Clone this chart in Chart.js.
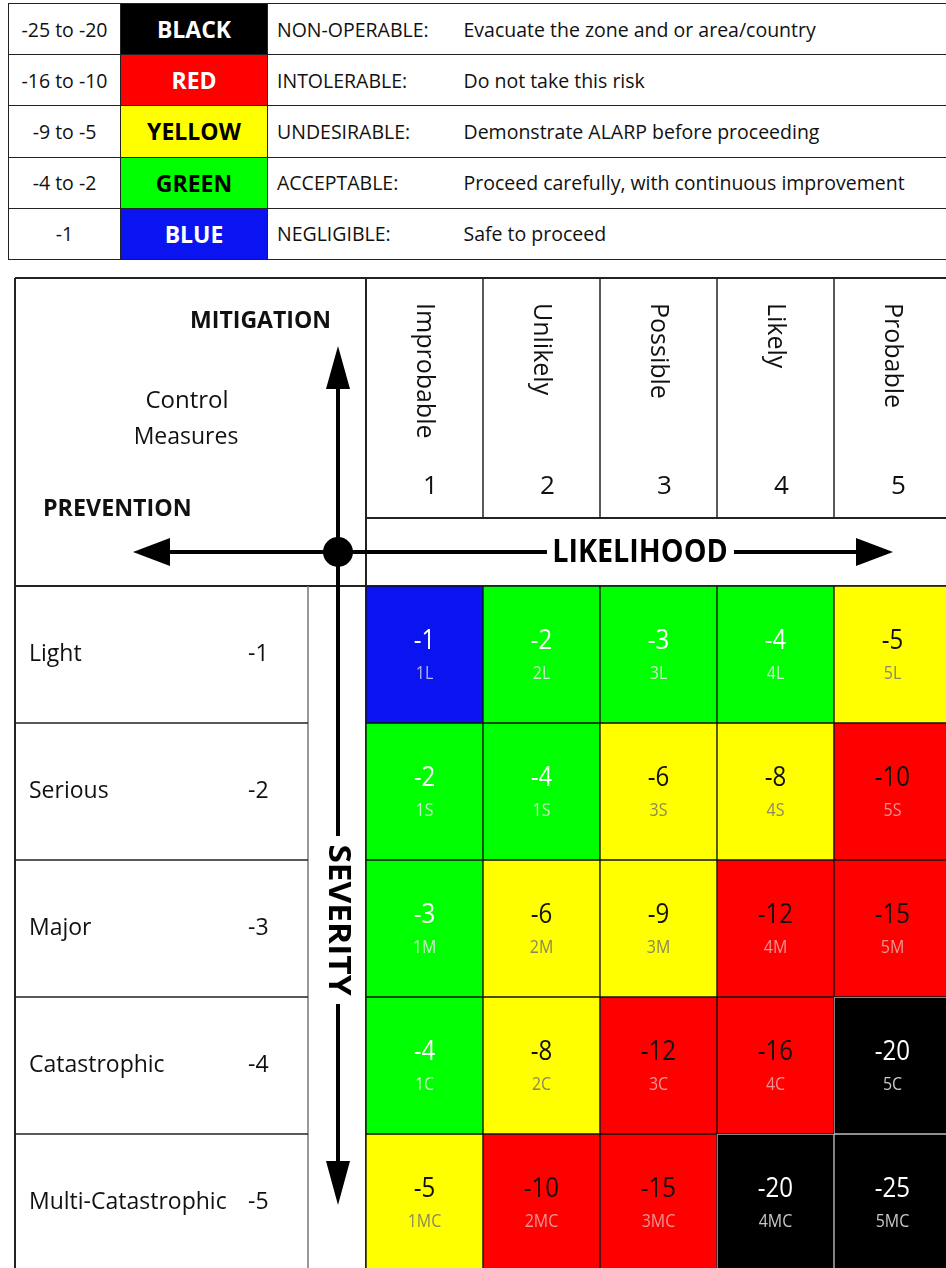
<!DOCTYPE html>
<html>
<head>
<meta charset="utf-8">
<script src="https://cdn.jsdelivr.net/npm/chart.js@4.4.1/dist/chart.umd.min.js"></script>
<style>
  html, body { margin: 0; padding: 0; background: #fff; overflow: hidden; width: 946px; height: 1268px; }
  #matrix { position: absolute; left: 0; top: 0; }
  #legend { position: absolute; left: 8px; top: 3px; width: 980px; border-collapse: collapse; table-layout: fixed; z-index: 2; background: #fff;
    font-family: "Open Sans", sans-serif; font-size: 19.5px; color: #111; }
  #legend td { border: 1.5px solid #222; height: 50.2px; padding: 0; white-space: nowrap; }
  #legend td.range { text-align: center; }
  #legend td.name { text-align: center; font-weight: bold; font-size: 23px; }
  #legend td.level { border-right: none; padding-left: 9px; }
  #legend td.action { border-left: none; padding-left: 10px; }
</style>
</head>
<body>
<table id="legend">
  <colgroup><col style="width:112px"><col style="width:147px"><col style="width:186px"><col></colgroup>
  <tbody></tbody>
</table>
<canvas id="matrix" width="952" height="1272"></canvas>
<script>
// colour bands (legend)
const bandRanges = ["-25 to -20", "-16 to -10", "-9 to -5", "-4 to -2", "-1"];
const bandNames = ["BLACK", "RED", "YELLOW", "GREEN", "BLUE"];
const bandLevels = ["NON-OPERABLE:", "INTOLERABLE:", "UNDESIRABLE:", "ACCEPTABLE:", "NEGLIGIBLE:"];
const bandActions = [
  "Evacuate the zone and or area/country",
  "Do not take this risk",
  "Demonstrate ALARP before proceeding",
  "Proceed carefully, with continuous improvement",
  "Safe to proceed",
];
const bandFloors = [-25, -16, -9, -4, -1];

// axes
const likelihoodLabels = ["Improbable", "Unlikely", "Possible", "Likely", "Probable"];
const likelihoodRatings = ["1", "2", "3", "4", "5"];
const severityLabels = ["Light", "Serious", "Major", "Catastrophic", "Multi-Catastrophic"];
const severityRatings = ["-1", "-2", "-3", "-4", "-5"];

// risk scores per severity row
const lightScores = [-1, -2, -3, -4, -5];
const seriousScores = [-2, -4, -6, -8, -10];
const majorScores = [-3, -6, -9, -12, -15];
const catastrophicScores = [-4, -8, -12, -16, -20];
const multiCatScores = [-5, -10, -15, -20, -25];

// cell codes per severity row
const lightCodes = ["1L", "2L", "3L", "4L", "5L"];
const seriousCodes = ["1S", "1S", "3S", "4S", "5S"];
const majorCodes = ["1M", "2M", "3M", "4M", "5M"];
const catastrophicCodes = ["1C", "2C", "3C", "4C", "5C"];
const multiCatCodes = ["1MC", "2MC", "3MC", "4MC", "5MC"];

const scoreRows = [lightScores, seriousScores, majorScores, catastrophicScores, multiCatScores];
const codeRows = [lightCodes, seriousCodes, majorCodes, catastrophicCodes, multiCatCodes];

// styling per band
const BAND_STYLE = {
  BLACK: { fill: "#000000", name: "#ffffff", value: "#ffffff", code: "#c8c8c8", border: "#bdbdbd" },
  RED: { fill: "#ff0000", name: "#ffffff", value: "#111111", code: "#ee9494", border: "#111111" },
  YELLOW: { fill: "#ffff00", name: "#000000", value: "#111111", code: "#8a8a58", border: "#111111" },
  GREEN: { fill: "#00ff00", name: "#000000", value: "#ffffff", code: "#cdeccd", border: "#111111" },
  BLUE: { fill: "#0a14f0", name: "#ffffff", value: "#ffffff", code: "#b8b8ee", border: "#111111" },
};

function bandOf(score) {
  for (let i = 0; i < bandFloors.length; i++) {
    if (i === bandFloors.length - 1 || score < bandFloors[i + 1]) return bandNames[i];
  }
}

// legend table
const tbody = document.querySelector("#legend tbody");
tbody.innerHTML = bandNames
  .map(
    (n, i) =>
      `<tr>
        <td class="range">${bandRanges[i]}</td>
        <td class="name" style="background:${BAND_STYLE[n].fill};color:${BAND_STYLE[n].name}">${n}</td>
        <td class="level">${bandLevels[i]}</td>
        <td class="action">${bandActions[i]}</td>
      </tr>`,
  )
  .join("");

const FONT = '"Open Sans", sans-serif';

function txt(ctx, s, x, y, opts) {
  const o = Object.assign({ size: 22, weight: "normal", color: "#111", align: "center", rot: 0, sx: 1 }, opts);
  ctx.save();
  ctx.translate(x, y);
  if (o.rot) ctx.rotate(o.rot);
  ctx.scale(o.sx, 1);
  ctx.font = `${o.weight} ${o.size}px ${FONT}`;
  ctx.fillStyle = o.color;
  ctx.textAlign = o.align;
  ctx.textBaseline = "middle";
  ctx.fillText(s, 0, 0);
  ctx.restore();
}

function line(ctx, x1, y1, x2, y2, w, color) {
  ctx.save();
  ctx.strokeStyle = color || "#222";
  ctx.lineWidth = w || 1.5;
  ctx.beginPath();
  ctx.moveTo(x1, y1);
  ctx.lineTo(x2, y2);
  ctx.stroke();
  ctx.restore();
}

function tri(ctx, pts) {
  ctx.save();
  ctx.fillStyle = "#000";
  ctx.beginPath();
  ctx.moveTo(pts[0], pts[1]);
  ctx.lineTo(pts[2], pts[3]);
  ctx.lineTo(pts[4], pts[5]);
  ctx.closePath();
  ctx.fill();
  ctx.restore();
}

const framePlugin = {
  id: "riskFrame",
  beforeDatasetsDraw(chart) {
    const { ctx, chartArea: a, scales } = chart;
    const xs = scales.x, ys = scales.y;
    const colW = xs.width / likelihoodLabels.length;
    const top = 278, headSplit = 518, left = 15, labelRight = 308;

    // outer frame
    line(ctx, left, top, chart.width, top, 2);
    line(ctx, left, top, left, chart.height, 2);
    line(ctx, left, a.top, chart.width, a.top, 2);
    line(ctx, a.left, top, a.left, chart.height, 2);
    line(ctx, a.left, headSplit, chart.width, headSplit, 2);

    // likelihood header columns
    likelihoodLabels.forEach((lab, c) => {
      const xc = xs.getPixelForValue(c);
      if (c > 0) line(ctx, xc - colW / 2, top, xc - colW / 2, headSplit, 1.5);
      txt(ctx, lab, xc, 303, { size: 25, rot: Math.PI / 2, align: "left" });
      txt(ctx, likelihoodRatings[c], xc + 6, 487, { size: 26 });
    });

    // severity rows
    line(ctx, labelRight, a.top, labelRight, chart.height, 1.5, "#777");
    severityLabels.forEach((lab, r) => {
      const yc = ys.getPixelForValue(r + 0.5);
      if (r > 0) line(ctx, left, ys.getPixelForValue(r), labelRight, ys.getPixelForValue(r), 1.5);
      txt(ctx, lab, 29, yc, { size: 23, align: "left" });
      txt(ctx, severityRatings[r], 248, yc, { size: 23, align: "left" });
    });

    // control measures corner
    txt(ctx, "MITIGATION", 331, 321, { size: 24, weight: "bold", align: "right", sx: 0.96 });
    txt(ctx, "Control", 187, 401, { size: 24 });
    txt(ctx, "Measures", 186, 437, { size: 23 });
    txt(ctx, "PREVENTION", 43, 509, { size: 24, weight: "bold", align: "left", sx: 0.97 });
  },
  afterDatasetsDraw(chart) {
    const { ctx } = chart;
    chart.data.datasets.forEach((ds, r) => {
      chart.getDatasetMeta(r).data.forEach((el, c) => {
        const st = BAND_STYLE[bandOf(ds.scores[c])];
        const cy = (el.y + el.base) / 2;
        txt(ctx, String(ds.scores[c]), el.x, cy - 13, { size: 28, color: st.value, sx: 0.86 });
        txt(ctx, ds.codes[c], el.x, cy + 19, { size: 19, color: st.code, sx: 0.84 });
      });
    });
  },
  afterDraw(chart) {
    const { ctx } = chart;
    const cx = 338, cy = 552;
    // horizontal axis: prevention <- -> likelihood
    line(ctx, 165, cy, 547, cy, 4, "#000");
    line(ctx, 734, cy, 860, cy, 4, "#000");
    tri(ctx, [133, cy, 170, cy - 14, 170, cy + 14]);
    tri(ctx, [893, cy, 856, cy - 14, 856, cy + 14]);
    txt(ctx, "LIKELIHOOD", 640, cy + 1, { size: 33, weight: "bold", color: "#000", sx: 0.87 });
    // vertical axis: mitigation ^ v severity
    line(ctx, cx, 385, cx, 836, 4, "#000");
    line(ctx, cx, 1004, cx, 1165, 4, "#000");
    tri(ctx, [cx, 346, cx - 12, 389, cx + 12, 389]);
    tri(ctx, [cx, 1205, cx - 12, 1161, cx + 12, 1161]);
    txt(ctx, "SEVERITY", cx, 920, { size: 31, weight: "bold", color: "#000", rot: Math.PI / 2, sx: 1.08 });
    ctx.save();
    ctx.fillStyle = "#000";
    ctx.beginPath();
    ctx.arc(cx, cy, 15, 0, Math.PI * 2);
    ctx.fill();
    ctx.restore();
  },
};

new Chart(document.getElementById("matrix"), {
  type: "bar",
  data: {
    labels: likelihoodRatings,
    datasets: severityLabels.map((name, r) => ({
      label: name,
      scores: scoreRows[r],
      codes: codeRows[r],
      data: scoreRows[r].map(() => [r, r + 1]),
      backgroundColor: scoreRows[r].map((s) => BAND_STYLE[bandOf(s)].fill),
      borderColor: scoreRows[r].map((s) => BAND_STYLE[bandOf(s)].border),
    })),
  },
  options: {
    responsive: false,
    animation: false,
    devicePixelRatio: 1,
    events: [],
    layout: { padding: { left: 366, top: 586, right: 1, bottom: 1 } },
    datasets: {
      bar: { barPercentage: 1, categoryPercentage: 1, grouped: false, borderWidth: 1, borderSkipped: false },
    },
    scales: {
      x: { display: false, offset: true },
      y: { display: false, min: 0, max: 5, reverse: true },
    },
    plugins: { legend: { display: false }, tooltip: { enabled: false } },
  },
  plugins: [framePlugin],
});
</script>
</body>
</html>
